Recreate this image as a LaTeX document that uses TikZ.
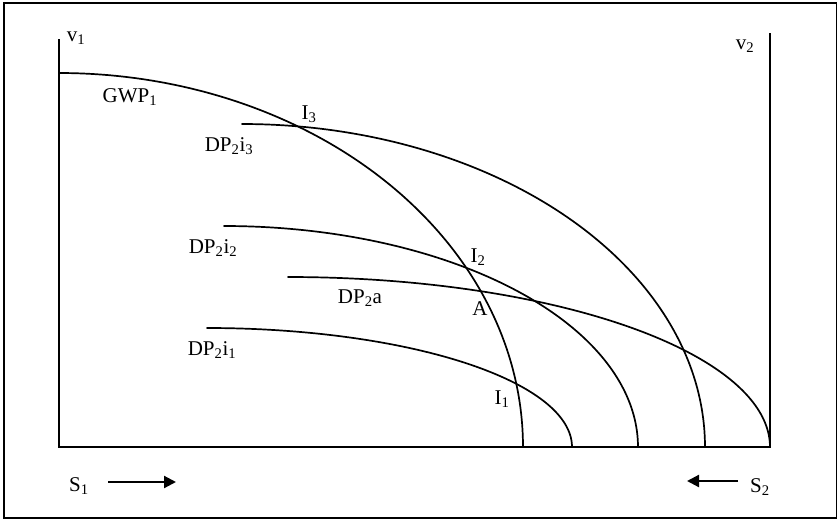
\documentclass[tikz,border=0pt]{standalone}
\usepackage{fontspec}
\setmainfont{Liberation Serif}
\usetikzlibrary{arrows.meta}
\tikzset{
  lbl/.style={inner sep=0pt, font=\fontsize{21}{25}\selectfont},
  curve/.style={line width=1.7pt, line cap=round},
  axisline/.style={line width=1.8pt},
  dirarrow/.style={line width=2.2pt, -{Triangle[length=12pt,width=12pt]}}
}
\begin{document}
\begin{tikzpicture}[x=1pt,y=-1pt]
\useasboundingbox (0,0) rectangle (838,520);
% frame
\draw[line width=1.8pt] (4,3) rectangle (836.5,518);
% axes
\coordinate (v1top) at (59,39);
\coordinate (origin) at (59,447);
\coordinate (corner) at (770,447);
\coordinate (v2top) at (770,33);
\draw[axisline] (v1top) -- (origin) -- (corner) -- (v2top);
% curves (quarter ellipses)
\draw[curve] plot[domain=90:0,samples=90,smooth] ({59+464*cos(\x)},{447-374*sin(\x)});
\draw[curve] plot[domain=90:0,samples=90,smooth] ({242+463*cos(\x)},{447-323*sin(\x)});
\draw[curve] plot[domain=90:0,samples=90,smooth] ({224+414*cos(\x)},{447-221*sin(\x)});
\draw[curve] plot[domain=90:0,samples=90,smooth] ({288+482*cos(\x)},{447-170*sin(\x)});
\draw[curve] plot[domain=90:0,samples=90,smooth] ({207+365*cos(\x)},{447-119*sin(\x)});
% labels
\node[lbl] (lv1) at (76,38) {v\textsubscript{1}};
\node[lbl] (lv2) at (745,46) {v\textsubscript{2}};
\node[lbl] (lgwp) at (130,97) {GWP\textsubscript{1}};
\node[lbl] (li3) at (309,114) {I\textsubscript{3}};
\node[lbl] (ldp3) at (229,146) {DP\textsubscript{2}i\textsubscript{3}};
\node[lbl] (ldp2) at (213,248) {DP\textsubscript{2}i\textsubscript{2}};
\node[lbl] (li2) at (478,257) {I\textsubscript{2}};
\node[lbl] (ldpa) at (360,298) {DP\textsubscript{2}a};
\node[lbl] (la) at (480,309) {A};
\node[lbl] (ldp1) at (212,350) {DP\textsubscript{2}i\textsubscript{1}};
\node[lbl] (li1) at (502,399) {I\textsubscript{1}};
\node[lbl] (ls1) at (79,486) {S\textsubscript{1}};
\node[lbl] (ls2) at (760,487) {S\textsubscript{2}};
% direction arrows
\coordinate (a1s) at (108,482);
\coordinate (a1e) at (176,482);
\coordinate (a2s) at (738,481);
\coordinate (a2e) at (687,481);
\draw[dirarrow] (a1s) -- (a1e);
\draw[dirarrow] (a2s) -- (a2e);
\end{tikzpicture}
\end{document}
